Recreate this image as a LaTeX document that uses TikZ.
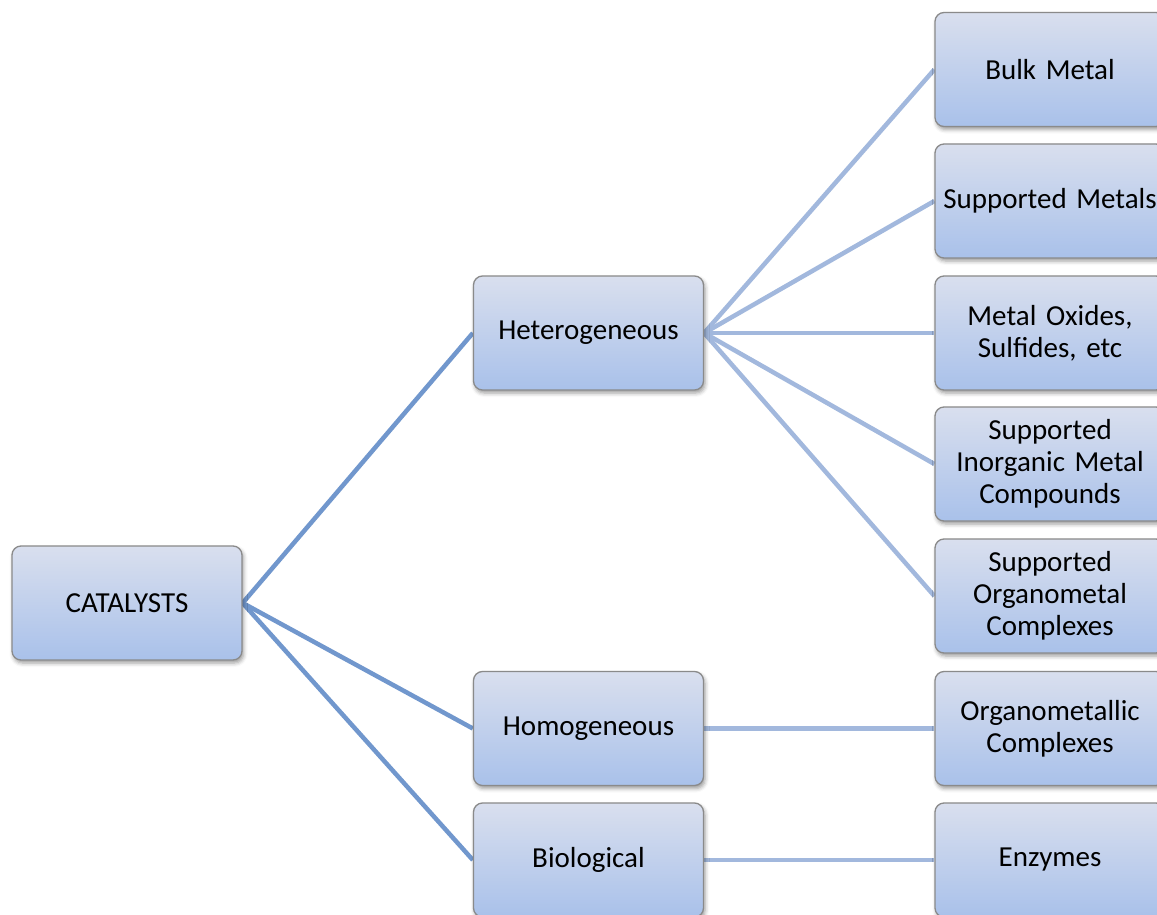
\documentclass[tikz,border=0pt]{standalone}
\usepackage{fontspec}
\setmainfont{Carlito}
\usetikzlibrary{shadows.blur,backgrounds}
\definecolor{boxtop}{HTML}{D9DFEE}
\definecolor{boxbot}{HTML}{A9C1EA}
\definecolor{boxline}{HTML}{8A8A8A}
\definecolor{darkline}{HTML}{7197CD}
\definecolor{lightline}{HTML}{A2B8DD}
\begin{document}
\begin{tikzpicture}[x=1pt,y=-1pt,
  cbox/.style={draw=boxline, line width=1.3pt, rounded corners=9pt,
    top color=boxtop, bottom color=boxbot,
    minimum width=230pt, minimum height=114pt, text width=228pt,
    align=center, inner sep=1pt,
    font=\fontsize{29}{32}\selectfont,
    blur shadow={shadow xshift=1.5pt, shadow yshift=-3pt, shadow opacity=40, shadow blur radius=4pt}},
  darkconn/.style={draw=darkline, line width=4.5pt},
  lightconn/.style={draw=lightline, line width=4.5pt}]
\useasboundingbox (0,0) rectangle (1157,915);
\node[cbox] (cat) at (127,603) {CATALYSTS};
\node[cbox] (het) at (588.5,333) {Heterogeneous};
\node[cbox] (hom) at (588.5,728.5) {Homogeneous};
\node[cbox] (bio) at (588.5,860) {Biological};
\node[cbox] (bulk) at (1050,69.5) {Bulk Metal};
\node[cbox] (supm) at (1050,201) {Supported Metals};
\node[cbox] (oxi) at (1050,333) {Metal Oxides,\\Sulfides, etc};
\node[cbox] (inorg) at (1050,464) {Supported\\Inorganic Metal\\Compounds};
\node[cbox] (orgm) at (1050,596) {Supported\\Organometal\\Complexes};
\node[cbox] (orgc) at (1050,728.5) {Organometallic\\Complexes};
\node[cbox] (enz) at (1050,860) {Enzymes};
\begin{scope}[on background layer]
\draw[darkconn] (cat.east) -- (het.west);
\draw[darkconn] (cat.east) -- (hom.west);
\draw[darkconn] (cat.east) -- (bio.west);
\draw[lightconn] (het.east) -- (bulk.west);
\draw[lightconn] (het.east) -- (supm.west);
\draw[lightconn] (het.east) -- (oxi.west);
\draw[lightconn] (het.east) -- (inorg.west);
\draw[lightconn] (het.east) -- (orgm.west);
\draw[lightconn] (hom.east) -- (orgc.west);
\draw[lightconn] (bio.east) -- (enz.west);
\end{scope}
\end{tikzpicture}
\end{document}
